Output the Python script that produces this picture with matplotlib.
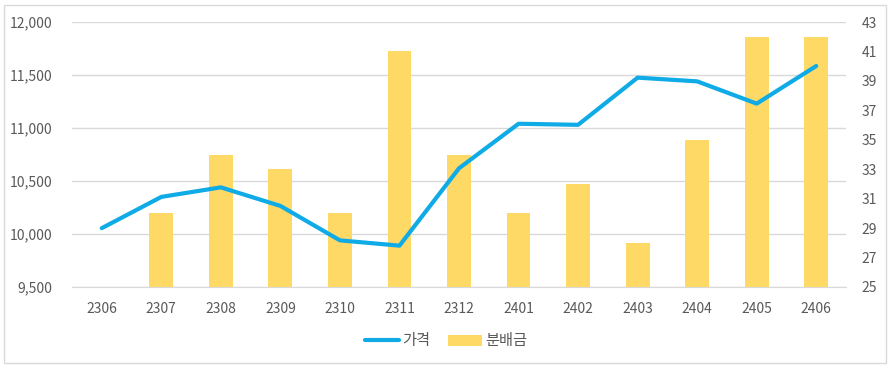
import numpy as np
import matplotlib
matplotlib.use("Agg")
from matplotlib import pyplot as plt
from matplotlib.patches import Rectangle

plt.rcParams['font.family'] = ['Noto Sans CJK KR', 'DejaVu Sans']

months = ['2306', '2307', '2308', '2309', '2310', '2311', '2312',
          '2401', '2402', '2403', '2404', '2405', '2406']
price = [10055, 10350, 10440, 10265, 9940, 9890, 10620,
         11040, 11030, 11475, 11440, 11230, 11585]
dividend = [np.nan, 30, 34, 33, 30, 41, 34, 30, 32, 28, 35, 42, 42]

LINE_C = '#0FABE6'
BAR_C = '#FFD966'
TXT_C = '#595959'
GRID_C = '#D9D9D9'

fig = plt.figure(figsize=(8.92, 3.67), dpi=100)
fig.patches.append(Rectangle((4 / 892, 4 / 367), 882 / 892, 358 / 367, transform=fig.transFigure,
                             fill=False, edgecolor=GRID_C, linewidth=1))

pos = [72 / 892, 1 - 287 / 367, (846 - 72) / 892, (287 - 22) / 367]
ax1 = fig.add_axes(pos)
x = np.arange(len(months))

# left axis: price ticks + gridlines
ax1.set_ylim(9500, 12000)
ax1.set_yticks(np.arange(9500, 12001, 500))
ax1.yaxis.set_major_formatter(matplotlib.ticker.FuncFormatter(lambda v, p: '{:,.0f}'.format(v)))
ax1.grid(axis='y', color=GRID_C, linewidth=1)
ax1.set_axisbelow(True)

# right axis: dividend bars
ax2 = ax1.twinx()
bars = ax2.bar(x, dividend, width=0.4, color=BAR_C, label='분배금', zorder=2)
ax2.set_ylim(25, 43)
ax2.set_yticks(np.arange(25, 44, 2))

# line on top, same scale as price axis
ax3 = ax1.twinx()
line, = ax3.plot(x, price, color=LINE_C, linewidth=3, label='가격', solid_capstyle='round', zorder=3)
ax3.set_ylim(ax1.get_ylim())
ax3.set_yticks([])

for ax in (ax1, ax2, ax3):
    ax.set_xlim(-0.5, len(months) - 0.5)
    for s in ax.spines.values():
        s.set_visible(False)
    ax.tick_params(length=0, colors=TXT_C, labelsize=10)

ax1.spines['bottom'].set_visible(True)
ax1.spines['bottom'].set_color(GRID_C)
ax1.set_xticks(x)
ax1.set_xticklabels(months)
ax1.tick_params(axis='x', pad=11)
ax1.tick_params(axis='y', pad=14)
ax2.tick_params(axis='y', pad=11)

leg = fig.legend([line, bars], ['가격', '분배금'], loc='center', bbox_to_anchor=(0.5, 1 - 341 / 367),
                 ncol=2, frameon=False, fontsize=11, handlelength=2.2, handletextpad=0.2,
                 columnspacing=1.2)
for t in leg.get_texts():
    t.set_color(TXT_C)

fig.savefig('out.png', dpi=100)
